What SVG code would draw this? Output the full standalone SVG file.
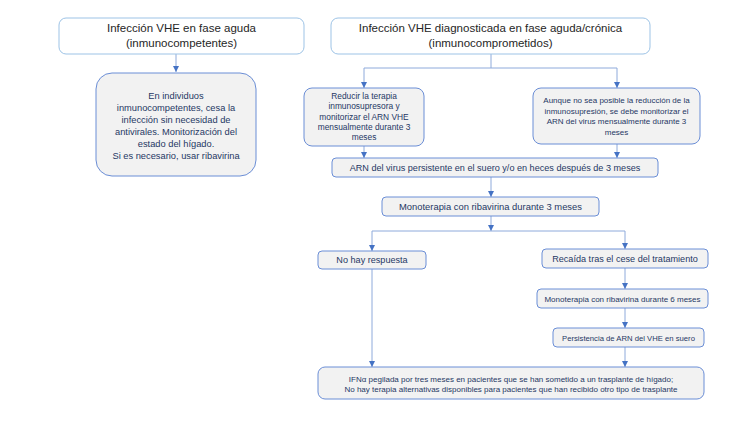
<svg xmlns="http://www.w3.org/2000/svg" width="742" height="424" viewBox="0 0 742 424">
<defs>
<style>
.top{fill:#ffffff;stroke:#9DC3E6;stroke-width:1}
.box{fill:#F2F2F2;stroke:#6B8ED6;stroke-width:1}
.tt{font-family:"Liberation Sans",Arial,sans-serif;font-size:11.5px;fill:#262626;text-anchor:middle}
.bt{font-family:"Liberation Sans",Arial,sans-serif;fill:#1F3864;text-anchor:middle}
.ln{fill:none;stroke:#8EAADB;stroke-width:1}
</style>
<marker id="ah" viewBox="0 0 6 6" refX="6" refY="3" markerWidth="6" markerHeight="6" markerUnits="userSpaceOnUse" orient="auto">
<path d="M0,0 L6,3 L0,6 Z" fill="#4472C4"/>
</marker>
</defs>
<rect width="742" height="424" fill="#ffffff"/>
<g id="connectors">
<path class="ln" d="M176,54 V72" marker-end="url(#ah)"/>
<path class="ln" d="M491,54 V68 M364,68 H617"/>
<path class="ln" d="M364,68 V88" marker-end="url(#ah)"/>
<path class="ln" d="M617,68 V88" marker-end="url(#ah)"/>
<path class="ln" d="M364,146 V158" marker-end="url(#ah)"/>
<path class="ln" d="M617,144 V158" marker-end="url(#ah)"/>
<path class="ln" d="M491,177 V197" marker-end="url(#ah)"/>
<path class="ln" d="M491,216 V231" marker-end="url(#ah)"/>
<path class="ln" d="M372,231 H625"/>
<path class="ln" d="M372,231 V251" marker-end="url(#ah)"/>
<path class="ln" d="M625,231 V249" marker-end="url(#ah)"/>
<path class="ln" d="M625,268 V289" marker-end="url(#ah)"/>
<path class="ln" d="M625,308 V328" marker-end="url(#ah)"/>
<path class="ln" d="M625,347 V367" marker-end="url(#ah)"/>
<path class="ln" d="M372,269 V367" marker-end="url(#ah)"/>
</g>
<g id="n1">
<rect class="top" x="59" y="18" width="245" height="36" rx="7"/>
<text class="tt" x="181.5" y="32">Infección VHE en fase aguda</text>
<text class="tt" x="181.5" y="47">(inmunocompetentes)</text>
</g>
<g id="n2">
<rect class="top" x="331" y="18" width="319" height="36" rx="7"/>
<text class="tt" x="490.5" y="32">Infección VHE diagnosticada en fase aguda/crónica</text>
<text class="tt" x="490.5" y="47">(inmunocomprometidos)</text>
</g>
<g id="n3">
<rect class="box" x="96" y="73" width="160" height="103" rx="16"/>
<text class="bt" font-size="9.3" x="176" y="98.5">En individuos</text>
<text class="bt" font-size="9.3" x="176" y="110.6">inmunocompetentes, cesa la</text>
<text class="bt" font-size="9.3" x="176" y="122.7">infección sin necesidad de</text>
<text class="bt" font-size="9.3" x="176" y="134.8">antivirales. Monitorización del</text>
<text class="bt" font-size="9.3" x="176" y="146.9">estado del hígado.</text>
<text class="bt" font-size="9.3" x="176" y="159">Si es necesario, usar ribavirina</text>
</g>
<g id="n4">
<rect class="box" x="304" y="88" width="120" height="58" rx="8"/>
<text class="bt" font-size="8.4" x="364" y="99">Reducir la terapia</text>
<text class="bt" font-size="8.4" x="364" y="109.3">inmunosupresora y</text>
<text class="bt" font-size="8.4" x="364" y="119.6">monitorizar el ARN VHE</text>
<text class="bt" font-size="8.4" x="364" y="129.9">mensualmente durante 3</text>
<text class="bt" font-size="8.4" x="364" y="140.2">meses</text>
</g>
<g id="n5">
<rect class="box" x="533" y="88" width="167" height="56" rx="8"/>
<text class="bt" font-size="8" x="616.5" y="103">Aunque no sea posible la reducción de la</text>
<text class="bt" font-size="8" x="616.5" y="113.7">inmunosupresión, se debe monitorizar el</text>
<text class="bt" font-size="8" x="616.5" y="124.4">ARN del virus mensualmente durante 3</text>
<text class="bt" font-size="8" x="616.5" y="135.1">meses</text>
</g>
<g id="n6">
<rect class="box" x="332" y="158" width="326" height="19" rx="4"/>
<text class="bt" font-size="9.1" x="495" y="171">ARN del virus persistente en el suero y/o en heces después de 3 meses</text>
</g>
<g id="n7">
<rect class="box" x="382" y="197" width="217" height="19" rx="4"/>
<text class="bt" font-size="9.4" x="490.5" y="209.8">Monoterapia con ribavirina durante 3 meses</text>
</g>
<g id="n8">
<rect class="box" x="318" y="251" width="108" height="18" rx="4"/>
<text class="bt" font-size="9.1" x="372" y="263.2">No hay respuesta</text>
</g>
<g id="n9">
<rect class="box" x="542" y="249" width="166" height="19" rx="4"/>
<text class="bt" font-size="9.1" x="625" y="261.8">Recaída tras el cese del tratamiento</text>
</g>
<g id="n10">
<rect class="box" x="537" y="289" width="171" height="19" rx="4"/>
<text class="bt" font-size="8" x="622.5" y="301.5">Monoterapia con ribavirina durante 6 meses</text>
</g>
<g id="n11">
<rect class="box" x="553" y="328" width="151" height="19" rx="4"/>
<text class="bt" font-size="7.7" x="628.5" y="340.5">Persistencia de ARN del VHE en suero</text>
</g>
<g id="n12">
<rect class="box" x="318" y="367" width="386" height="32" rx="7"/>
<text class="bt" font-size="8" x="511" y="381.8">IFNα pegilada por tres meses en pacientes que se han sometido a un trasplante de hígado;</text>
<text class="bt" font-size="8" x="511" y="391.5">No hay terapia alternativas disponibles para pacientes que han recibido otro tipo de trasplante</text>
</g>
</svg>
